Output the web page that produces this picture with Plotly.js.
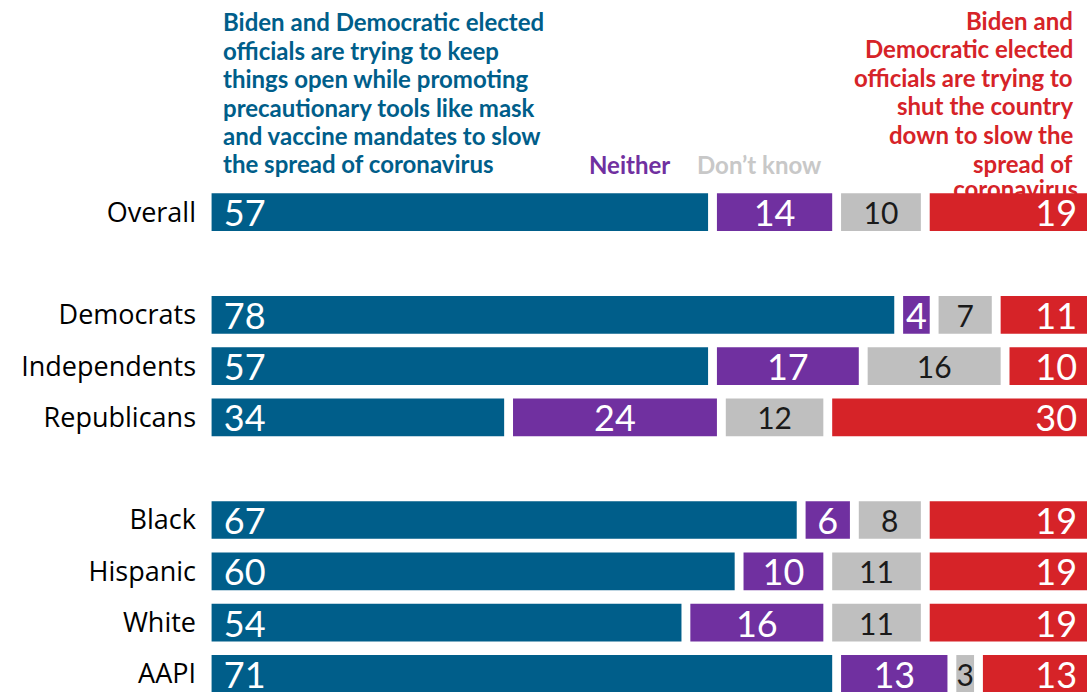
<!DOCTYPE html>
<html>
<head>
<meta charset="utf-8">
<script src="https://cdn.plot.ly/plotly-3.0.1.min.js"></script>
<style>
  html, body { margin: 0; padding: 0; background: #fff; }
  #chart { width: 1087px; height: 692px; }
</style>
</head>
<body>
<div id="chart"></div>
<script>
// ---- data ----
const categories = ['Overall', 'Democrats', 'Independents', 'Republicans', 'Black', 'Hispanic', 'White', 'AAPI'];
const groupIndex = [0, 1, 1, 1, 2, 2, 2, 2];
const keepOpen = [57, 78, 57, 34, 67, 60, 54, 71];
const neither = [14, 4, 17, 24, 6, 10, 16, 13];
const dontKnow = [10, 7, 16, 12, 8, 11, 11, 3];
const shutDown = [19, 11, 10, 30, 19, 19, 19, 13];

const headingOpen = 'Biden and Democratic elected<br>officials are trying to keep<br>things open while promoting<br>precautionary tools like mask<br>and vaccine mandates to slow<br>the spread of coronavirus';
const headingShut = 'Biden and<br>Democratic elected<br>officials are trying to<br>shut the country<br>down to slow the<br>spread of<br>coronavirus';
const headingNeither = 'Neither';
const headingDK = 'Don\u2019t know';

// ---- styling ----
const BLUE = '#005e8a', PURPLE = '#7030a0', GRAY = '#bfbfbf', RED = '#d62328';
const FONT = 'Lato, "Noto Sans", sans-serif';
const LABEL_FONT = '"Open Sans", "Noto Sans", sans-serif';
const GAP = 1;      // white gap before each segment, in data units
const W = 1087, H = 692;
const M = {l: 202, r: 0, t: 186, b: 0};
const plotW = W - M.l - M.r, plotH = H - M.t - M.b;
const XR = [-0.08, 99.74], YR = [9.353, -0.511];
const px2x = p => (p - M.l) / plotW;
const py2y = p => (H - M.b - p) / plotH;
const px2dx = p => XR[0] + (p - M.l) / plotW * (XR[1] - XR[0]);
const py2dy = p => YR[0] + (H - M.b - p) / plotH * (YR[1] - YR[0]);

const ypos = categories.map((c, i) => i + groupIndex[i]);

const series = [
  {vals: keepOpen, color: BLUE, anchor: 'start', font: {color: '#fff', size: 36}, fmt: v => '\u00a0' + v},
  {vals: neither, color: PURPLE, anchor: 'middle', font: {color: '#fff', size: 36}, fmt: v => String(v)},
  {vals: dontKnow, color: GRAY, anchor: 'middle', font: {color: '#1a1a1a', size: 30}, fmt: v => String(v)},
  {vals: shutDown, color: RED, anchor: 'end', font: {color: '#fff', size: 36}, fmt: v => v + '\u00a0'}
];

const cum = categories.map(() => 0);
const traces = series.map(s => {
  const base = s.vals.map((v, i) => cum[i] + GAP);
  const x = s.vals.map(v => v - GAP);
  s.vals.forEach((v, i) => { cum[i] += v; });
  return {
    type: 'bar', orientation: 'h',
    xaxis: 'x', yaxis: 'y2',
    y: ypos, x: x, base: base,
    width: 0.735,
    marker: {color: s.color, line: {width: 0}},
    text: s.vals.map(s.fmt),
    textposition: 'inside',
    insidetextanchor: s.anchor,
    textangle: 0,
    constraintext: 'none',
    insidetextfont: Object.assign({family: FONT}, s.font),
    textfont: Object.assign({family: FONT}, s.font),
    hoverinfo: 'skip',
    showlegend: false
  };
});

// heading lines
const HEAD_SIZE = 24, ASC = 0.987;
const headFont = (color) => ({family: FONT, size: HEAD_SIZE, color: color, weight: 700});
const annotations = [];
function addLines(text, xPx, anchor, firstBaseline, step, color, maxLines) {
  const lines = text.split('<br>');
  lines.forEach((ln, i) => {
    if (maxLines !== undefined && i >= maxLines) return;
    const base = firstBaseline + step * i;
    annotations.push({
      text: ln, xref: 'paper', yref: 'paper',
      x: px2x(xPx), y: py2y(base - ASC * HEAD_SIZE - 1),
      xanchor: anchor, yanchor: 'top', align: anchor,
      showarrow: false, font: headFont(color)
    });
  });
  return lines;
}
addLines(headingOpen, 221, 'left', 30, 28.4, BLUE);
const shutLines = addLines(headingShut, 1075, 'right', 28.3, 28.6, RED, 6);
addLines(headingNeither, 587, 'left', 173, 0, PURPLE);
addLines(headingDK, 695, 'left', 173, 0, '#c8c8c8');

// last red heading line sits beneath the Overall bar (drawn on the base subplot)
const lastBaseline = 28.3 + 28.6 * 6;
traces.unshift({
  type: 'scatter', mode: 'text',
  xaxis: 'x', yaxis: 'y',
  x: [px2dx(1078)], y: [py2dy(lastBaseline - 0.35 * HEAD_SIZE)],
  text: [shutLines[6]],
  textposition: 'middle left',
  textfont: headFont(RED),
  cliponaxis: false,
  hoverinfo: 'skip', showlegend: false
});

const layout = {
  width: W, height: H,
  margin: M,
  paper_bgcolor: '#fff', plot_bgcolor: '#fff',
  barmode: 'overlay',
  showlegend: false,
  font: {family: FONT},
  xaxis: {range: XR, showgrid: false, zeroline: false, showticklabels: false, ticks: '', fixedrange: true},
  yaxis: {
    range: YR,
    tickvals: ypos, ticktext: categories,
    showgrid: false, zeroline: false, ticks: '',
    ticklabelstandoff: 5,
    tickfont: {family: LABEL_FONT, size: 27, color: '#000', weight: 500},
    fixedrange: true
  },
  yaxis2: {
    range: YR, overlaying: 'y', side: 'left',
    showgrid: false, zeroline: false, showticklabels: false, ticks: '',
    fixedrange: true
  },
  annotations: annotations
};

Plotly.newPlot('chart', traces, layout, {displayModeBar: false, staticPlot: true});
</script>
</body>
</html>
